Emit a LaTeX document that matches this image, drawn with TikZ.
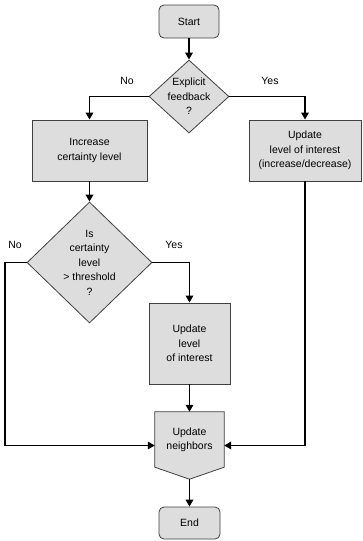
\documentclass[tikz,border=0pt]{standalone}
\usepackage{fontspec}
\setmainfont{Liberation Sans}
\usetikzlibrary{arrows.meta,shapes.geometric,calc}
\definecolor{boxfill}{HTML}{DDDDDD}
\definecolor{boxline}{HTML}{404040}
\begin{document}
\begin{tikzpicture}[x=1pt,y=-1pt,
  every node/.style={font=\fontsize{10.5}{14.5}\selectfont, align=center, inner sep=0pt},
  shapebox/.style={draw=boxline, fill=boxfill, line width=0.8pt},
  procbox/.style={shapebox, rectangle},
  termbox/.style={shapebox, rectangle, rounded corners=5pt},
  decbox/.style={shapebox, diamond},
  flow/.style={line width=1.8pt, -{Triangle[length=7pt,width=7.5pt]}},
  flowline/.style={line width=1.8pt},
  lbl/.style={font=\fontsize{10.5}{12}\selectfont}
]
\useasboundingbox (0,0) rectangle (362,541);

% nodes
\node[termbox, minimum width=60pt, minimum height=33pt] (start) at (189,21.5) {Start};
\node[decbox, minimum width=80pt, minimum height=73pt] (d1) at (189,96.5) {};
\node (d1t) at (d1.center) {Explicit\\feedback\\?};
\node[procbox, minimum width=115pt, minimum height=61pt] (b1) at (89.5,150.5) {Increase\\certainty level};
\node[procbox, minimum width=112pt, minimum height=61pt] (b2) at (305,150.5) {Update\\level of interest\\(increase/decrease)};
\node[decbox, minimum width=125pt, minimum height=121pt] (d2) at (89.5,262.5) {};
\node (d2t) at (d2.center) {Is\\certainty\\level\\> threshold\\?};
\node[procbox, minimum width=81pt, minimum height=81pt] (b3) at (189.5,343.5) {Update\\level\\of interest};
% update neighbors: pentagon drawn on the anchors of a plain node
\node[minimum width=69pt, minimum height=67pt] (nb) at (189.5,445.5) {};
\filldraw[draw=boxline, fill=boxfill, line width=0.8pt]
  (nb.north west) -- (nb.north east) -- ($(nb.south east)+(0,-12)$) -- (nb.south)
  -- ($(nb.south west)+(0,-12)$) -- cycle;
\node (nbt) at (189.5,440) {Update\\neighbors};
\node[termbox, minimum width=61pt, minimum height=32pt] (end) at (189.5,523) {End};

% corner of the left bypass line
\coordinate (cl) at (5,0);

% labels
\node[lbl] (no1) at (127,81) {No};
\node[lbl] (yes1) at (270,81) {Yes};
\node[lbl] (no2) at (15,245) {No};
\node[lbl] (yes2) at (174,245) {Yes};

% connectors
\draw[flow] (start.south) -- (d1.north);
\draw[flow] (d1.west) -| (b1.north);
\draw[flow] (d1.east) -| (b2.north);
\draw[flow] (b1.south) -- (d2.north);
\draw[flow] (d2.east) -| (b3.north);
\draw[flow] (d2.west) -- (d2.west -| cl) -- (cl |- nb.west) -- (nb.west);
\draw[flow] (b3.south) -- (nb.north);
\draw[flow] (b2.south) -- (b2.south |- nb.east) -- (nb.east);
\draw[flow] (nb.south) -- (end.north);
\end{tikzpicture}
\end{document}
